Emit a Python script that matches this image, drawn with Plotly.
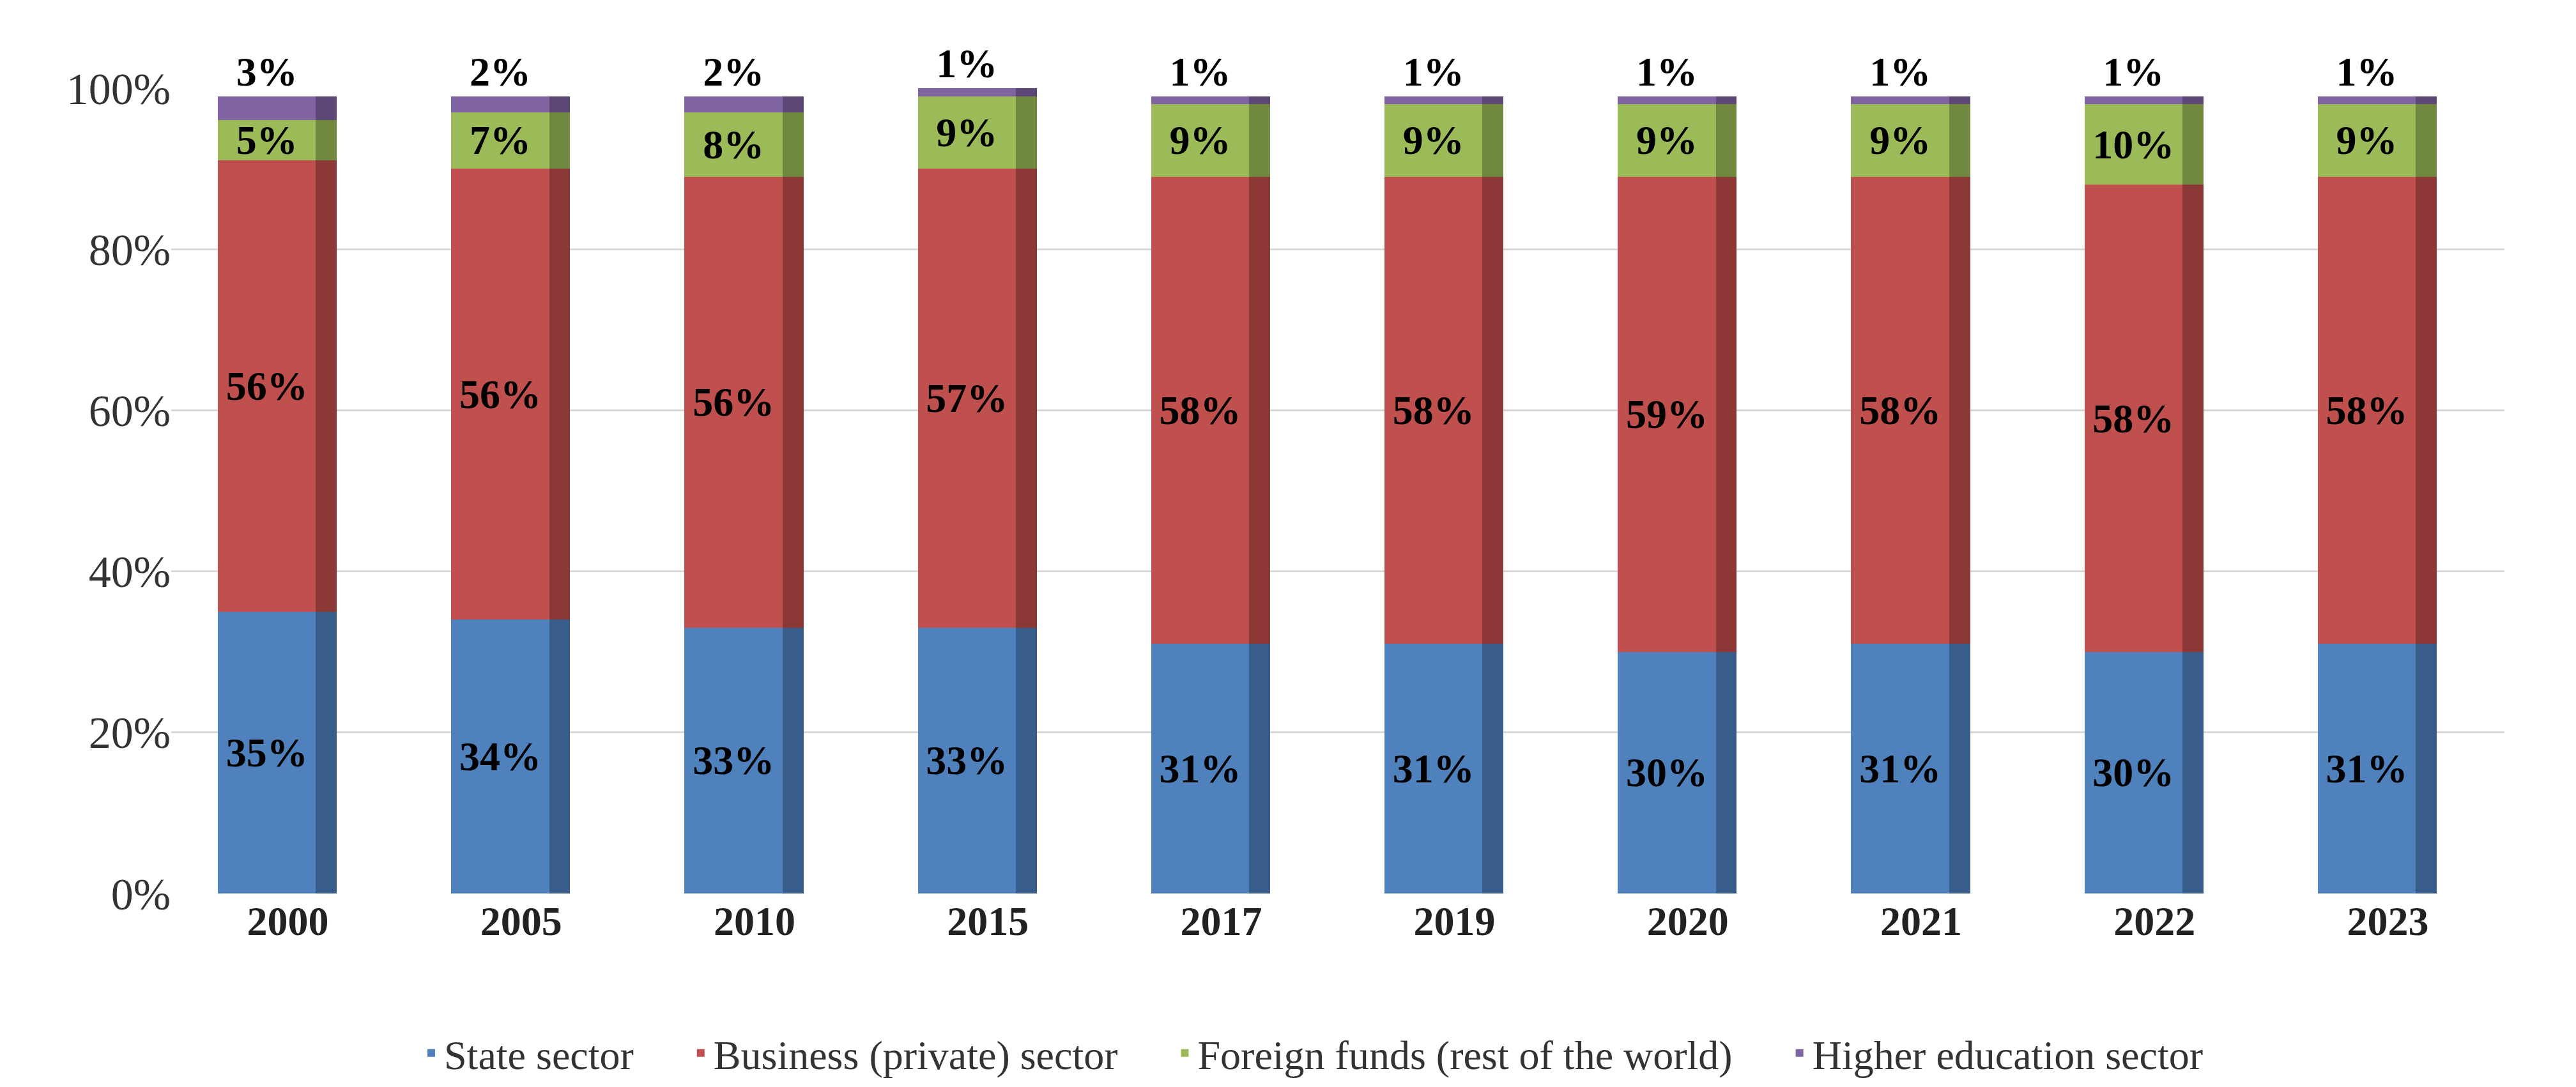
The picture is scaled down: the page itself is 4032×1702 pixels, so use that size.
import plotly.graph_objects as go

years = ["2000", "2005", "2010", "2015", "2017", "2019", "2020", "2021", "2022", "2023"]
state = [35, 34, 33, 33, 31, 31, 30, 31, 30, 31]
business = [56, 56, 56, 57, 58, 58, 59, 58, 58, 58]
foreign = [5, 7, 8, 9, 9, 9, 9, 9, 10, 9]
higher = [3, 2, 2, 1, 1, 1, 1, 1, 1, 1]

series = [
    ("State sector", state, "#4F81BD", "#385D8A"),
    ("Business (private) sector", business, "#C0504D", "#8C3836"),
    ("Foreign funds (rest of the world)", foreign, "#9BBB59", "#71893F"),
    ("Higher education sector", higher, "#8064A2", "#5C4776"),
]

font = "Liberation Serif"
fig = go.Figure()
for i, (name, vals, col, dark) in enumerate(series):
    last = i == len(series) - 1
    fig.add_trace(go.Bar(
        name=name + "     ", x=years, y=vals, marker_color=col, marker_line_width=0,
        offsetgroup="front", width=0.42, offset=-0.3,
        text=[f"{v}%" for v in vals],
        textposition="outside" if last else "inside",
        insidetextanchor="middle", constraintext="none",
        textfont=dict(family=font, size=64, color="black", weight="bold"),
        cliponaxis=False,
    ))
    fig.add_trace(go.Bar(
        name=name, x=years, y=vals, marker_color=dark, marker_line_width=0,
        offsetgroup="side", width=0.09, offset=0.12,
        showlegend=False, hoverinfo="skip",
    ))

fig.update_layout(
    barmode="stack", width=4032, height=1702,
    plot_bgcolor="white", paper_bgcolor="white",
    margin=dict(l=260, r=120, t=130, b=270),
    font=dict(family=font, size=64, color="#333"),
    legend=dict(orientation="h", x=0.5, xanchor="center", y=-0.16, yanchor="top",
                traceorder="normal",
                font=dict(family=font, size=64, color="#333"), itemwidth=30),
)
fig.update_xaxes(tickfont=dict(family=font, size=64, color="#222", weight="bold"),
                 showline=False)
fig.update_yaxes(range=[0, 100], dtick=20, ticksuffix="%", showgrid=True,
                 gridcolor="#D9D9D9", gridwidth=3, zeroline=False,
                 tickfont=dict(family=font, size=70, color="#333"))
fig.write_html("out.html")
